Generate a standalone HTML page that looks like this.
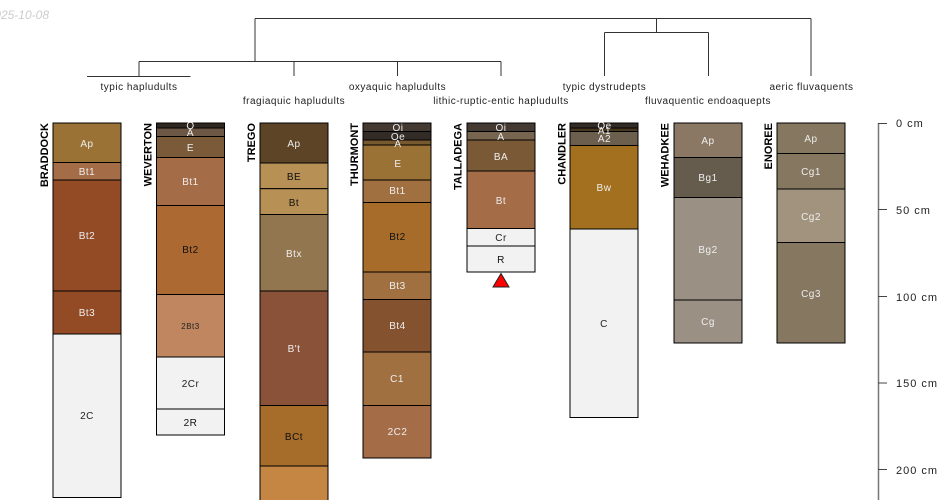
<!DOCTYPE html>
<html><head><meta charset="utf-8"><style>
html,body{margin:0;padding:0;background:#fff;width:950px;height:500px;overflow:hidden}
svg{display:block}
text{font-family:"Liberation Sans",sans-serif;font-size:10px}
.w{fill:#eeeeee;text-anchor:middle;letter-spacing:.5px}
.k{fill:#111;text-anchor:middle;letter-spacing:.5px}
.t{fill:#222;text-anchor:middle;letter-spacing:.5px}
.n{font-weight:bold;fill:#000;text-anchor:end;font-size:11px}
.h{fill:none;stroke:#000;stroke-width:1}
.l{fill:none;stroke:#333;stroke-width:1}
</style></head><body>
<svg width="950" height="500" viewBox="0 0 950 500" xmlns="http://www.w3.org/2000/svg">
<text x="49" y="19" text-anchor="end" style="font-size:12px;font-style:italic;fill:#ccc">2025-10-08</text>
<path class="l" d="M255 18.5H811M255 18.5V61.5M811 18.5V76M656.500 18.500V32.500M604.500 32.500H708.500M604.500 32.500V76M708.500 32.500V76M139 61.500H501M139 61.500V76M294 61.500V76M397.500 61.500V76M501 61.500V76M87 76.500H190.500"/>
<text class="t" x="139" y="90">typic hapludults</text>
<text class="t" x="294" y="104">fragiaquic hapludults</text>
<text class="t" x="397.500" y="90">oxyaquic hapludults</text>
<text class="t" x="501" y="104">lithic-ruptic-entic hapludults</text>
<text class="t" x="604.500" y="90">typic dystrudepts</text>
<text class="t" x="708" y="104">fluvaquentic endoaquepts</text>
<text class="t" x="811.500" y="90">aeric fluvaquents</text>

<!-- BRADDOCK -->
<g class="h">
<rect x="53" y="123" width="68" height="39.500" fill="#9A7235"/>
<rect x="53" y="162.500" width="68" height="17.500" fill="#A46C47"/>
<rect x="53" y="180" width="68" height="111" fill="#934B26"/>
<rect x="53" y="291" width="68" height="43" fill="#934B26"/>
<rect x="53" y="334" width="68" height="163.500" fill="#F2F2F2"/>
</g>
<text class="n" transform="translate(48,123) rotate(-90)">BRADDOCK</text>
<text class="w" x="87" y="147">Ap</text><text class="w" x="87" y="175">Bt1</text><text class="w" x="87" y="239">Bt2</text><text class="w" x="87" y="316">Bt3</text><text class="t" x="87" y="419">2C</text>

<!-- WEVERTON -->
<g class="h">
<rect x="156.500" y="123" width="68" height="5" fill="#2F2820"/>
<rect x="156.500" y="128" width="68" height="8.500" fill="#6D5845"/>
<rect x="156.500" y="136.500" width="68" height="21" fill="#7B5A3A"/>
<rect x="156.500" y="157.500" width="68" height="48" fill="#A46C47"/>
<rect x="156.500" y="205.500" width="68" height="89" fill="#AC6A32"/>
<rect x="156.500" y="294.500" width="68" height="62.500" fill="#BF8660"/>
<rect x="156.500" y="357" width="68" height="52" fill="#F2F2F2"/>
<rect x="156.500" y="409" width="68" height="26" fill="#F2F2F2"/>
</g>
<text class="n" transform="translate(151.500,123) rotate(-90)">WEVERTON</text>
<text class="w" x="190.500" y="129">O</text><text class="w" x="190.500" y="136">A</text><text class="w" x="190.500" y="151">E</text><text class="w" x="190.500" y="185">Bt1</text><text class="k" x="190.500" y="253">Bt2</text><text class="t" x="190.500" y="329" style="font-size:8px">2Bt3</text><text class="t" x="190.500" y="387">2Cr</text><text class="k" x="190.500" y="426">2R</text>

<!-- TREGO -->
<g class="h">
<rect x="260" y="123" width="68" height="40" fill="#5E4427"/>
<rect x="260" y="163" width="68" height="25.700" fill="#B69054"/>
<rect x="260" y="188.700" width="68" height="25.800" fill="#B69054"/>
<rect x="260" y="214.500" width="68" height="76.500" fill="#927650"/>
<rect x="260" y="291" width="68" height="114.500" fill="#8B523A"/>
<rect x="260" y="405.500" width="68" height="60.500" fill="#A66C2A"/>
<rect x="260" y="466" width="68" height="44" fill="#C48642"/>
</g>
<text class="n" transform="translate(255,123) rotate(-90)">TREGO</text>
<text class="w" x="294" y="147">Ap</text><text class="k" x="294" y="180">BE</text><text class="k" x="294" y="206">Bt</text><text class="w" x="294" y="257">Btx</text><text class="w" x="294" y="352">B't</text><text class="k" x="294" y="440">BCt</text>

<!-- THURMONT -->
<g class="h">
<rect x="363" y="123" width="68" height="8.500" fill="#453A32"/>
<rect x="363" y="131.500" width="68" height="8.500" fill="#332C26"/>
<rect x="363" y="140" width="68" height="5" fill="#77592F"/>
<rect x="363" y="145" width="68" height="35" fill="#9A7235"/>
<rect x="363" y="180" width="68" height="22.500" fill="#A07040"/>
<rect x="363" y="202.500" width="68" height="69.500" fill="#A86C2A"/>
<rect x="363" y="272" width="68" height="27.500" fill="#A07040"/>
<rect x="363" y="299.500" width="68" height="52.500" fill="#855230"/>
<rect x="363" y="352" width="68" height="53.500" fill="#A07040"/>
<rect x="363" y="405.500" width="68" height="52.500" fill="#A46C47"/>
</g>
<text class="n" transform="translate(358,123) rotate(-90)">THURMONT</text>
<text class="w" x="398" y="131">Oi</text><text class="w" x="398" y="140">Oe</text><text class="w" x="398" y="147">A</text><text class="w" x="398" y="167">E</text><text class="w" x="397.500" y="194">Bt1</text><text class="k" x="397.500" y="240">Bt2</text><text class="w" x="397.500" y="289">Bt3</text><text class="w" x="397.500" y="329">Bt4</text><text class="w" x="397" y="382">C1</text><text class="w" x="397.500" y="435">2C2</text>

<!-- TALLADEGA -->
<g class="h">
<rect x="467" y="123" width="68" height="8.500" fill="#453A32"/>
<rect x="467" y="131.500" width="68" height="8.500" fill="#77654F"/>
<rect x="467" y="140" width="68" height="31" fill="#7A5A36"/>
<rect x="467" y="171" width="68" height="57.500" fill="#A46C47"/>
<rect x="467" y="228.500" width="68" height="17.500" fill="#F2F2F2"/>
<rect x="467" y="246" width="68" height="26" fill="#F2F2F2"/>
</g>
<text class="n" transform="translate(461.500,123) rotate(-90)">TALLADEGA</text>
<text class="w" x="501" y="131">Oi</text><text class="w" x="501" y="140">A</text><text class="w" x="501" y="160">BA</text><text class="w" x="501" y="204">Bt</text><text class="t" x="501" y="241">Cr</text><text class="k" x="501" y="263">R</text>
<polygon points="501,273.500 509,287 493,287" fill="#f00" stroke="#222" stroke-width="1"/>

<!-- CHANDLER -->
<g class="h">
<rect x="570" y="123" width="68" height="5" fill="#332C26"/>
<rect x="570" y="128" width="68" height="3.500" fill="#4A3722"/>
<rect x="570" y="131.500" width="68" height="14" fill="#6D5F4E"/>
<rect x="570" y="145.500" width="68" height="83.500" fill="#A2701E"/>
<rect x="570" y="229" width="68" height="188.500" fill="#F2F2F2"/>
</g>
<text class="n" transform="translate(565.500,123) rotate(-90)">CHANDLER</text>
<text class="w" x="604.500" y="129">Oe</text><text class="w" x="604.500" y="134">A1</text><text class="w" x="604.500" y="142">A2</text><text class="w" x="604" y="191">Bw</text><text class="t" x="604" y="327">C</text>

<!-- WEHADKEE -->
<g class="h">
<rect x="674" y="123" width="68" height="34.500" fill="#8B7864"/>
<rect x="674" y="157.500" width="68" height="40" fill="#655C4E"/>
<rect x="674" y="197.500" width="68" height="102.500" fill="#9A9184"/>
<rect x="674" y="300" width="68" height="43" fill="#9A9184"/>
</g>
<text class="n" transform="translate(668.500,123) rotate(-90)">WEHADKEE</text>
<text class="w" x="708" y="144">Ap</text><text class="w" x="708" y="181">Bg1</text><text class="w" x="708" y="253">Bg2</text><text class="w" x="708" y="325">Cg</text>

<!-- ENOREE -->
<g class="h">
<rect x="777" y="123" width="68" height="30.500" fill="#857760"/>
<rect x="777" y="153.500" width="68" height="35.500" fill="#857760"/>
<rect x="777" y="189" width="68" height="53.500" fill="#A2937E"/>
<rect x="777" y="242.500" width="68" height="100.500" fill="#857760"/>
</g>
<text class="n" transform="translate(772,123) rotate(-90)">ENOREE</text>
<text class="w" x="811" y="142">Ap</text><text class="w" x="811" y="175">Cg1</text><text class="w" x="811" y="220">Cg2</text><text class="w" x="811" y="297">Cg3</text>

<!-- Depth axis -->
<path d="M878.500 123V500" stroke="#777" stroke-width="1.500" fill="none"/>
<path d="M878 123.500H887M878 209.500H887M878 296.500H887M878 383H887M878 469.500H887" stroke="#444" stroke-width="1" fill="none"/>
<g style="font-size:11px;letter-spacing:1px">
<text x="896" y="127" fill="#222" style="font-size:11px">0 cm</text>
<text x="896" y="214" fill="#222" style="font-size:11px">50 cm</text>
<text x="896" y="301" fill="#222" style="font-size:11px">100 cm</text>
<text x="896" y="387" fill="#222" style="font-size:11px">150 cm</text>
<text x="896" y="474" fill="#222" style="font-size:11px">200 cm</text>
</g>
</svg>
</body></html>
